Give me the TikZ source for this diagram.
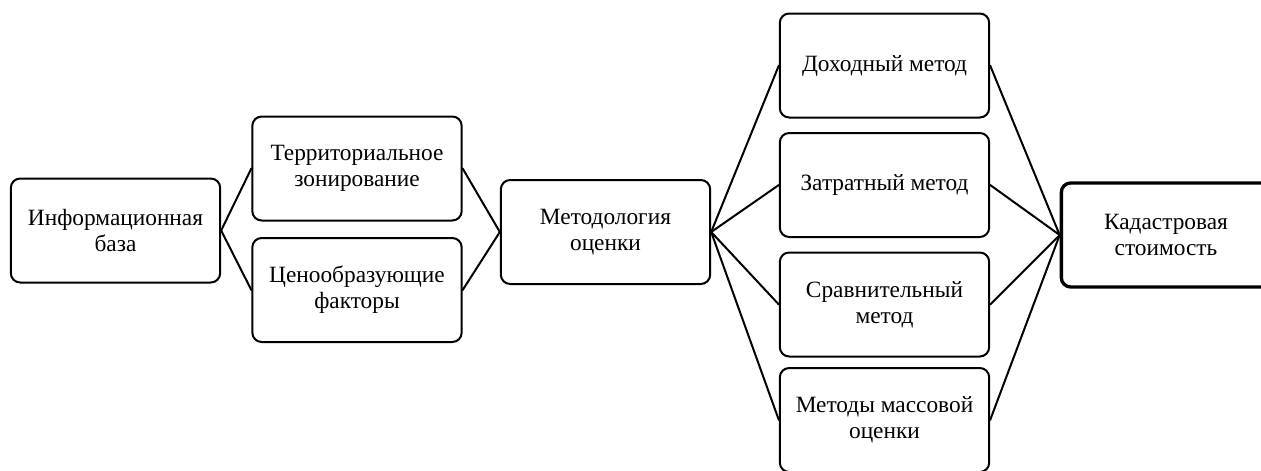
\documentclass[tikz,border=0pt]{standalone}
\usepackage{fontspec}
\setmainfont{Liberation Serif}
\begin{document}
\begin{tikzpicture}[x=0.75pt, y=-0.75pt, line cap=round, line join=round,
  stagebox/.style={draw, line width=1.5pt, rounded corners=7pt, align=center,
    minimum width=157pt, minimum height=78pt, inner sep=2pt,
    font=\fontsize{17.5}{19.5}\selectfont},
  resultbox/.style={stagebox, line width=2.5pt},
  link/.style={line width=1.5pt}]
  \useasboundingbox (0,0) rectangle (1261,471);
  \node[stagebox]  (base)    at (115.5,230.5) {Информационная\\база};
  \node[stagebox]  (zoning)  at (357,168.5)   {Территориальное\\зонирование};
  \node[stagebox]  (factors) at (357,290)     {Ценообразующие\\факторы};
  \node[stagebox]  (method)  at (605.5,232)   {Методология\\оценки};
  \node[stagebox]  (income)  at (884.5,65.5)  {Доходный метод};
  \node[stagebox]  (cost)    at (884.5,185)   {Затратный метод};
  \node[stagebox]  (compare) at (884.5,304.5) {Сравнительный\\метод};
  \node[stagebox]  (mass)    at (884.5,420)   {Методы массовой\\оценки};
  \node[resultbox] (value)   at (1166,235)    {Кадастровая\\стоимость};
  \draw[link] (base.east) -- (zoning.west);
  \draw[link] (base.east) -- (factors.west);
  \draw[link] (zoning.east) -- (method.west);
  \draw[link] (factors.east) -- (method.west);
  \foreach \m in {income,cost,compare,mass}
  {
    \draw[link] (method.east) -- (\m.west);
    \draw[link] (\m.east) -- (value.west);
  }
\end{tikzpicture}
\end{document}
